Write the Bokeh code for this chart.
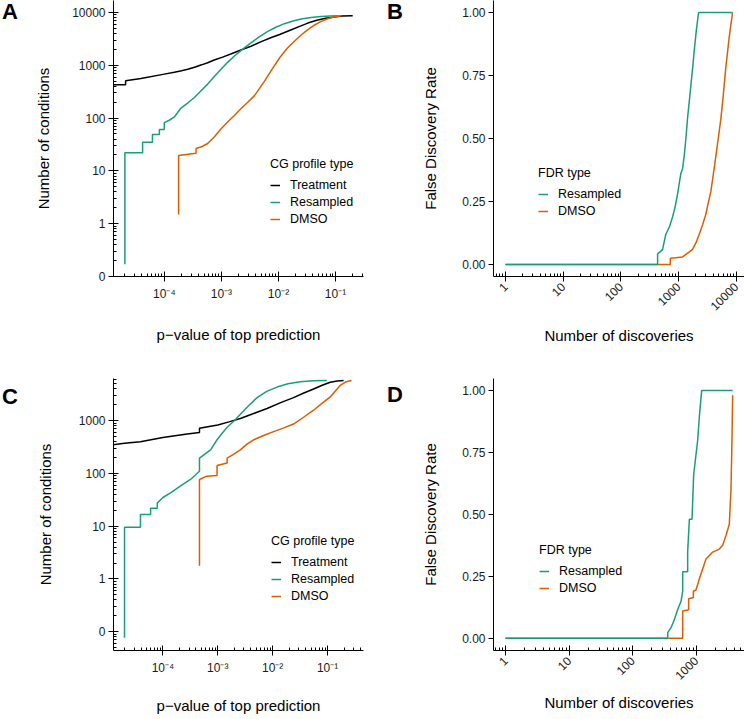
import math
from bokeh.plotting import figure
from bokeh.models import Range1d, FixedTicker, Legend, LegendItem, Div
from bokeh.layouts import column, row
from bokeh.embed import file_html
from bokeh.resources import INLINE

# ---------------- data ----------------
# Panel A: cumulative number of conditions vs p-value of top prediction
treat_A_p = [1.2e-5, 2.1e-5, 2.1e-5, 3.9e-5, 1.0e-4, 1.5e-4, 2.0e-4, 2.57e-4, 3.5e-4, 4.5e-4, 5.75e-4, 7.5e-4,
             1.05e-3, 1.5e-3, 2.2e-3, 3.3e-3, 5.0e-3, 7.5e-3, 1.05e-2, 1.6e-2, 2.3e-2, 3.27e-2, 4.7e-2,
             6.7e-2, 9.55e-2, 1.3e-1, 2.0e-1]
treat_A_n = [430, 430, 510, 560, 680, 740, 790, 840, 930, 1020, 1120, 1260, 1430, 1650, 1950, 2300, 2800,
             3350, 3820, 4600, 5400, 6300, 7100, 7750, 8200, 8550, 8700]
res_A_p = [2.04e-5, 2.04e-5, 4.17e-5, 4.17e-5, 6.2e-5, 6.2e-5, 8.2e-5, 8.2e-5, 1.0e-4, 1.0e-4, 1.22e-4, 1.5e-4,
           1.96e-4, 2.6e-4, 3.37e-4, 4.4e-4, 5.75e-4, 7.8e-4, 1.05e-3, 1.3e-3, 1.69e-3, 2.4e-3, 3.3e-3,
           4.6e-3, 6.5e-3, 9.0e-3, 1.27e-2, 1.8e-2, 2.5e-2, 3.7e-2, 5.6e-2, 8.0e-2, 1.1e-1]
res_A_n = [0.17, 22, 22, 35, 35, 49, 49, 61, 61, 82, 91, 105, 155, 195, 245, 330, 440, 640, 910, 1150, 1500,
           2050, 2660, 3450, 4380, 5250, 6140, 6900, 7500, 8000, 8400, 8620, 8700]
dmso_A_p = [1.78e-4, 1.78e-4, 3.6e-4, 3.6e-4, 4.6e-4, 5.75e-4, 7.5e-4, 9.9e-4, 1.3e-3, 1.69e-3, 2.2e-3, 2.9e-3,
            3.8e-3, 4.7e-3, 5.7e-3, 7.5e-3, 1.05e-2, 1.4e-2, 1.9e-2, 2.5e-2, 3.27e-2, 4.3e-2, 5.6e-2,
            7.5e-2, 9.55e-2, 1.26e-1]
dmso_A_n = [1.5, 19.5, 21.5, 26.6, 29, 33, 44, 63, 85, 112, 150, 200, 266, 370, 500, 800, 1390, 2050, 2860,
            3750, 4730, 5800, 6800, 7700, 8300, 8700]

# Panel B: false discovery rate vs number of discoveries
res_B_x = [1, 436, 436, 480, 532, 605, 700, 795, 880, 968, 1100, 1180, 1260, 1350, 1440, 1550, 1660, 1770,
           1885, 2050, 2240, 8700]
res_B_y = [0, 0, 0.042, 0.05, 0.06, 0.12, 0.15, 0.19, 0.23, 0.28, 0.36, 0.38, 0.43, 0.5, 0.58, 0.65, 0.72,
           0.78, 0.85, 0.93, 1.0, 1.0]
dmso_B_x = [1, 724, 724, 900, 1180, 1450, 1760, 2050, 2300, 2650, 3000, 3300, 3660, 4050, 4470, 4950, 5470,
            6000, 6640, 7600, 8700]
dmso_B_y = [0, 0, 0.025, 0.027, 0.03, 0.045, 0.06, 0.09, 0.12, 0.16, 0.2, 0.245, 0.29, 0.36, 0.43, 0.505,
            0.58, 0.67, 0.78, 0.9, 1.0]

# Panel C
treat_C_p = [1.2e-5, 2.0e-5, 3.9e-5, 1.0e-4, 2.77e-4, 4.64e-4, 4.64e-4, 7.0e-4, 1.0e-3, 1.6e-3, 2.58e-3,
             4.5e-3, 7.9e-3, 1.4e-2, 2.4e-2, 3.7e-2, 5.56e-2, 8.0e-2, 1.12e-1, 1.5e-1, 1.96e-1]
treat_C_n = [350, 375, 400, 480, 560, 600, 720, 780, 830, 950, 1100, 1370, 1700, 2200, 2740, 3350, 4000,
             4700, 5350, 5650, 5800]
res_C_p = [2.0e-5, 2.0e-5, 3.9e-5, 3.9e-5, 5.97e-5, 5.97e-5, 7.9e-5, 7.9e-5, 1.0e-4, 1.38e-4, 2.1e-4, 3.18e-4,
           4.64e-4, 4.64e-4, 7.4e-4, 9.7e-4, 1.2e-3, 1.48e-3, 2.0e-3, 2.58e-3, 3.6e-3, 5.2e-3, 7.8e-3,
           1.2e-2, 1.9e-2, 3.17e-2, 5.5e-2, 9.7e-2]
res_C_n = [0.077, 9.6, 9.6, 16.6, 16.6, 21.8, 21.8, 27.5, 35, 43, 58, 77, 110, 196, 280, 435, 580, 750, 1000,
           1330, 1900, 2740, 3600, 4340, 5000, 5450, 5700, 5800]
dmso_C_p = [4.64e-4, 4.64e-4, 6.3e-4, 9.7e-4, 9.7e-4, 1.2e-3, 1.48e-3, 1.48e-3, 2.0e-3, 2.58e-3, 3.4e-3,
            4.5e-3, 7.0e-3, 1.04e-2, 1.6e-2, 2.4e-2, 3.6e-2, 5.56e-2, 8.0e-2, 1.12e-1, 1.4e-1, 1.7e-1,
            2.2e-1, 2.74e-1]
dmso_C_n = [1.78, 77, 89, 91, 141, 150, 158, 196, 235, 280, 360, 435, 530, 620, 730, 865, 1150, 1580, 2150,
            2820, 3700, 4660, 5500, 5800]

# Panel D
res_D_x = [1, 358, 358, 404, 456, 514, 580, 616, 616, 738, 738, 785, 864, 918, 1062, 1127, 1227, 3770]
res_D_y = [0, 0, 0.023, 0.043, 0.076, 0.116, 0.149, 0.189, 0.269, 0.269, 0.348, 0.48, 0.48, 0.66, 0.80,
           0.894, 1.0, 1.0]
dmso_D_x = [1, 616, 616, 765, 765, 907, 907, 998, 1127, 1271, 1435, 1827, 2326, 2624, 2960, 3340, 3550,
            3680, 3770]
dmso_D_y = [0, 0, 0.11, 0.115, 0.16, 0.165, 0.19, 0.195, 0.24, 0.28, 0.32, 0.348, 0.36, 0.375, 0.415, 0.46,
            0.6, 0.8, 0.98]

# tick labels
p_ticks = [1e-4, 1e-3, 1e-2, 1e-1]
p_tick_labels = ["10\u207b\u2074", "10\u207b\u00b3", "10\u207b\u00b2", "10\u207b\u00b9"]
n_ticks_A = [0.1, 1, 10, 100, 1000, 10000]
n_tick_labels_A = ["0", "1", "10", "100", "1000", "10000"]
n_ticks_C = [0.1, 1, 10, 100, 1000]
n_tick_labels_C = ["0", "1", "10", "100", "1000"]
disc_ticks_B = [1, 10, 100, 1000, 10000]
disc_tick_labels_B = ["1", "10", "100", "1000", "10000"]
disc_ticks_D = [1, 10, 100, 1000]
disc_tick_labels_D = ["1", "10", "100", "1000"]
fdr_ticks = [0.0, 0.25, 0.5, 0.75, 1.0]
fdr_tick_labels = ["0.00", "0.25", "0.50", "0.75", "1.00"]

series_names = ["Treatment", "Resampled", "DMSO"]
panel_letters = ["A", "B", "C", "D"]
# ----------------------------------------------------------------

FONT = "Liberation Sans"
C_TREAT = "#000000"
C_RES = "#1b9e77"
C_DMSO = "#d95f02"
LW = 1.5


def log_minor(lo, hi):
    return [k * 10.0 ** d for d in range(lo, hi) for k in range(2, 10)]


def style_axis(ax, title, standoff, tick_in=5, tick_out=5, minor_in=3, label_standoff=3):
    ax.axis_label = title
    ax.axis_label_text_font = FONT
    ax.axis_label_text_font_size = "15px"
    ax.axis_label_text_font_style = "normal"
    ax.axis_label_text_color = "black"
    ax.axis_label_standoff = standoff
    ax.major_label_text_font = FONT
    ax.major_label_text_font_size = "12px"
    ax.major_label_text_color = "#1a1a1a"
    ax.major_label_standoff = label_standoff
    ax.axis_line_color = "black"
    ax.axis_line_width = 1
    ax.major_tick_line_color = "black"
    ax.minor_tick_line_color = "black"
    ax.major_tick_in = tick_in
    ax.major_tick_out = tick_out
    ax.minor_tick_in = minor_in
    ax.minor_tick_out = 0


def base_fig(w, h, xr, yr, xtype, ytype, left, right, top, bottom):
    p = figure(width=w, height=h, x_range=Range1d(*xr), y_range=Range1d(*yr),
               x_axis_type=xtype, y_axis_type=ytype, output_backend="svg",
               toolbar_location=None, min_border_left=left, min_border_right=right,
               min_border_top=top, min_border_bottom=bottom)
    p.outline_line_color = None
    p.xgrid.visible = False
    p.ygrid.visible = False
    p.background_fill_color = "white"
    p.border_fill_color = "white"
    return p


def add_legend(p, title, items, x, y):
    leg = Legend(items=items, title=title, location=(x, y))
    leg.border_line_color = None
    leg.background_fill_alpha = 0
    leg.padding = 0
    leg.margin = 0
    leg.glyph_width = 10
    leg.glyph_height = 14
    leg.label_height = 14
    leg.spacing = 3
    leg.label_standoff = 10
    leg.label_text_font = FONT
    leg.label_text_font_size = "12.5px"
    leg.label_text_color = "black"
    leg.title_text_font = FONT
    leg.title_text_font_size = "12.5px"
    leg.title_text_font_style = "normal"
    leg.title_text_color = "black"
    leg.title_standoff = 7
    p.add_layout(leg)


def letter_div(letter, w, h, pad_left, pad_top):
    html = ('<div style="font-family:\'Liberation Sans\',Arial,sans-serif;font-weight:bold;'
            'font-size:22px;line-height:22px;margin:0;padding:%dpx 0 0 %dpx;color:#000;">%s</div>'
            % (pad_top, pad_left, letter))
    return Div(text=html, width=w, height=h, margin=0)


def count_panel(h, top, bottom, xr, yr, yt, ytl, ylo, yhi, treat, res, dmso, leg_x, leg_y,
                y_standoff, x_standoff):
    p = base_fig(352, h, xr, yr, "log", "log", 93, 9, top, bottom)
    p.xaxis.ticker = FixedTicker(ticks=p_ticks, minor_ticks=log_minor(-6, 1))
    p.xaxis.major_label_overrides = dict(zip(p_ticks, p_tick_labels))
    p.yaxis.ticker = FixedTicker(ticks=yt, minor_ticks=log_minor(ylo, yhi))
    p.yaxis.major_label_overrides = dict(zip(yt, ytl))
    style_axis(p.xaxis[0], "p\u2212value of top prediction", x_standoff, label_standoff=5)
    style_axis(p.yaxis[0], "Number of conditions", y_standoff)
    r1 = p.line(treat[0], treat[1], line_color=C_TREAT, line_width=LW)
    r2 = p.line(res[0], res[1], line_color=C_RES, line_width=LW)
    r3 = p.line(dmso[0], dmso[1], line_color=C_DMSO, line_width=LW)
    add_legend(p, "CG profile type",
               [LegendItem(label=series_names[0], renderers=[r1]),
                LegendItem(label=series_names[1], renderers=[r2]),
                LegendItem(label=series_names[2], renderers=[r3])], leg_x, leg_y)
    return p


def fdr_panel(h, top, bottom, xr, yr, xt, xtl, res, dmso, leg_x, leg_y, x_standoff):
    p = base_fig(338, h, xr, yr, "log", "linear", 87, 0, top, bottom)
    p.xaxis.ticker = FixedTicker(ticks=xt, minor_ticks=log_minor(-1, 5))
    p.xaxis.major_label_overrides = dict(zip(xt, xtl))
    p.xaxis.major_label_orientation = math.pi / 4
    p.yaxis.ticker = FixedTicker(ticks=fdr_ticks, minor_ticks=[])
    p.yaxis.major_label_overrides = dict(zip(fdr_ticks, fdr_tick_labels))
    style_axis(p.xaxis[0], "Number of discoveries", x_standoff)
    style_axis(p.yaxis[0], "False Discovery Rate", 20, tick_in=0)
    r3 = p.line(dmso[0], dmso[1], line_color=C_DMSO, line_width=LW)
    r2 = p.line(res[0], res[1], line_color=C_RES, line_width=LW)
    add_legend(p, "FDR type",
               [LegendItem(label=series_names[1], renderers=[r2]),
                LegendItem(label=series_names[2], renderers=[r3])], leg_x, leg_y)
    return p


TOP_H = 348
BOT_H = 371

pA = count_panel(TOP_H, 0, 72, (10 ** -4.89, 10 ** -0.51), (10 ** -1, 10 ** 4.227), n_ticks_A, n_tick_labels_A,
                 -2, 5, (treat_A_p, treat_A_n), (res_A_p, res_A_n), (dmso_A_p, dmso_A_n), 157, 50, 17, 22)
pB = fdr_panel(TOP_H, 0, 72, (10 ** -0.208, 10 ** 4.147), (-0.0476, 1.0476), disc_ticks_B, disc_tick_labels_B,
               (res_B_x, res_B_y), (dmso_B_x, dmso_B_y), 45, 58, 10)
pC = count_panel(BOT_H, 30, 69, (10 ** -4.90, 10 ** -0.345), (10 ** -1.356, 10 ** 3.80), n_ticks_C, n_tick_labels_C,
                 -3, 4, (treat_C_p, treat_C_n), (res_C_p, res_C_n), (dmso_C_p, dmso_C_n), 158, 47, 22, 19)
pD = fdr_panel(BOT_H, 30, 69, (10 ** -0.189, 10 ** 3.763), (-0.049, 1.048), disc_ticks_D, disc_tick_labels_D,
               (res_D_x, res_D_y), (dmso_D_x, dmso_D_y), 46, 55, 7)

dA = letter_div(panel_letters[0], 20, TOP_H, 2, 1)
dB = letter_div(panel_letters[1], 34, TOP_H, 15, 1)
dC = letter_div(panel_letters[2], 20, BOT_H, 2, 38)
dD = letter_div(panel_letters[3], 34, BOT_H, 15, 36)

layout = column(row(dA, pA, dB, pB), row(dC, pC, dD, pD))
open("out.html", "w").write(file_html(layout, INLINE))
